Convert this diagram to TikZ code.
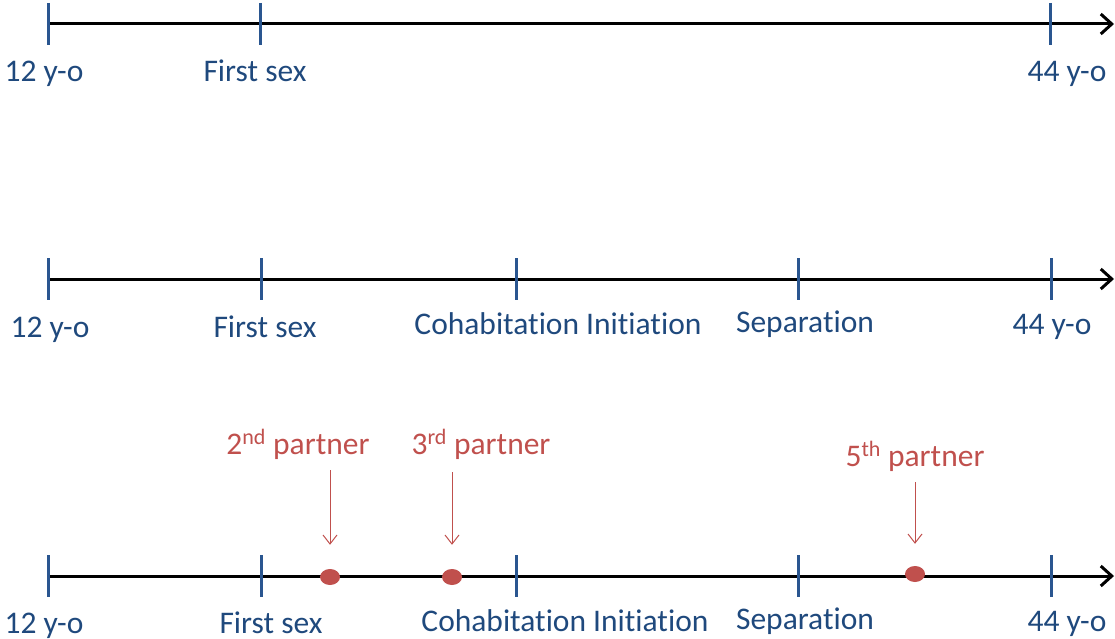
\documentclass[tikz,border=0pt]{standalone}
\usepackage{fontspec}
\setmainfont{Carlito}[Ligatures={NoCommon,TeX}]
\usetikzlibrary{arrows.meta,shapes.geometric}
\definecolor{navy}{HTML}{1F497D}
\definecolor{tickblue}{HTML}{2A5690}
\definecolor{accent}{HTML}{C0504D}
\begin{document}
\begin{tikzpicture}[x=1pt,y=-1pt,
  axis/.style={line width=3pt,-{Straight Barb[length=11pt,width=20pt,line width=3pt]}},
  tickline/.style={line width=3pt,draw=tickblue},
  lab/.style={text=navy,font=\fontsize{31.5}{36}\selectfont,anchor=base,inner sep=0pt},
  rlab/.style={text=accent,font=\fontsize{31.5}{36}\selectfont,anchor=base,inner sep=0pt},
  event/.style={ellipse,fill=accent,minimum width=20pt,minimum height=16pt,inner sep=0pt},
  pointer/.style={draw=accent,line width=1pt,shorten >=24pt,-{Straight Barb[length=9pt,width=14pt,line width=1pt]}}]
\useasboundingbox (0,0) rectangle (1115,639);

% timeline 1
\coordinate (a1s) at (47,24);
\coordinate (a1e) at (1114,24);
\draw[axis] (a1s) -- (a1e);
\foreach \x in {48,260,1050}
  \draw[tickline] (\x,3) -- (\x,45);
\node[lab] (l1a) at (44,82) {12 y-o};
\node[lab] (l1b) at (255,82) {First sex};
\node[lab] (l1c) at (1067,82) {44 y-o};

% timeline 2
\coordinate (a2s) at (47,279);
\coordinate (a2e) at (1114,279);
\draw[axis] (a2s) -- (a2e);
\foreach \x in {48,261,516,798,1051}
  \draw[tickline] (\x,258) -- (\x,300);
\node[lab] (l2a) at (50,337) {12 y-o};
\node[lab] (l2b) at (265,337) {First sex};
\node[lab] (l2c) at (558,334) {Cohabitation Initiation};
\node[lab] (l2d) at (805,332) {Separation};
\node[lab] (l2e) at (1052,334) {44 y-o};

% timeline 3
\coordinate (a3s) at (47,576);
\coordinate (a3e) at (1114,576);
\draw[axis] (a3s) -- (a3e);
\foreach \x in {48,261,516,798,1051}
  \draw[tickline] (\x,555) -- (\x,597);
\node[lab] (l3a) at (44,633) {12 y-o};
\node[lab] (l3b) at (271,633) {First sex};
\node[lab] (l3c) at (565,631) {Cohabitation Initiation};
\node[lab] (l3d) at (805,629) {Separation};
\node[lab] (l3e) at (1067,631) {44 y-o};

% partner events
\node[event] (p2) at (330,577) {};
\node[event] (p3) at (452,577) {};
\node[event] (p5) at (915,574) {};
\node[rlab] (t2) at (298,454) {2\textsuperscript{nd} partner};
\node[rlab] (t3) at (481,454) {3\textsuperscript{rd} partner};
\node[rlab] (t5) at (915,466) {5\textsuperscript{th} partner};
\coordinate (s2) at (330,470);
\coordinate (s3) at (452,472);
\coordinate (s5) at (915,482);
\draw[pointer] (s2) -- (p2);
\draw[pointer] (s3) -- (p3);
\draw[pointer,shorten >=22pt] (s5) -- (p5);
\end{tikzpicture}
\end{document}
